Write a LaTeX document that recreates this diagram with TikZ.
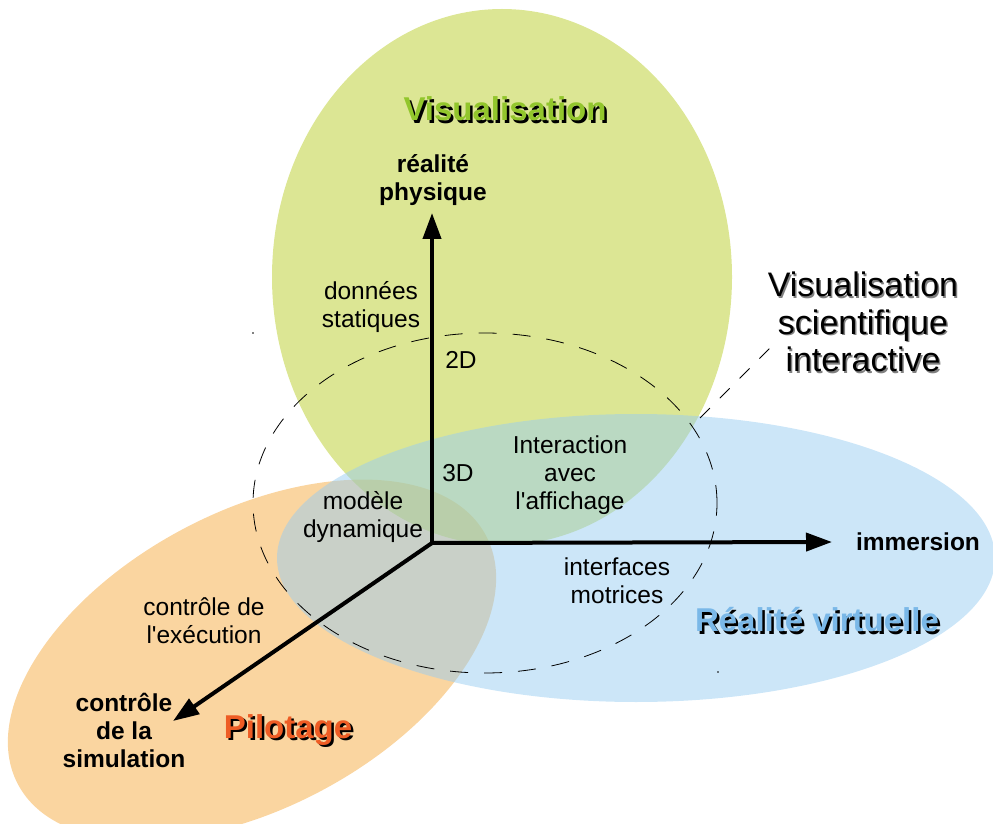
\documentclass[tikz,border=0pt]{standalone}
\usepackage{fontspec}
\setmainfont{Liberation Sans}[Ligatures=TeXOff]
\usetikzlibrary{arrows.meta}

\definecolor{visugreen}{RGB}{185,205,41}
\definecolor{virtblue}{RGB}{153,205,241}
\definecolor{pilotorange}{RGB}{245,171,65}
\definecolor{titlegreen}{RGB}{146,198,44}
\definecolor{titleblue}{RGB}{122,184,232}
\definecolor{titleorange}{RGB}{238,92,36}

% texte avec ombre portee
\newcommand{\ombre}[4]{\rlap{\kern#1\raisebox{-#1}{\textcolor{#2}{#4}}}\textcolor{#3}{#4}}

\begin{document}
\begin{tikzpicture}[x=1pt, y=1pt,
    zone/.style={fill opacity=0.5},
    tiret/.style={dash pattern=on 18pt off 16pt, line width=0.8pt},
    lbl/.style={align=center, font=\fontsize{24.5}{28}\selectfont},
    axlbl/.style={align=center, font=\fontsize{24.5}{28}\selectfont\bfseries},
    titre/.style={font=\fontsize{33}{38}\selectfont\bfseries},
    axe/.style={line width=4pt, line cap=rect, -{Triangle[length=26pt, width=18pt]}}]
    \useasboundingbox (0,0) rectangle (993,823);

    % les trois domaines
    \fill[zone, pilotorange, rotate around={28:(252,163)}] (252,163) ellipse [x radius=265, y radius=148];
    \fill[zone, visugreen] (502,546) ellipse [x radius=230, y radius=268];
    \fill[zone, virtblue] (636,265) ellipse [x radius=359, y radius=144];

    % visualisation scientifique interactive
    \draw[tiret] (485,320) ellipse [x radius=232, y radius=170];
    \coordinate (l1) at (700,405);
    \coordinate (l2) at (773,478);
    \draw[tiret, dash pattern=on 14pt off 14pt] (l1) -- (l2);
    \fill (253,490) circle (0.9);
    \fill (718,151) circle (0.9);

    % axes
    \coordinate (O) at (432,280);
    \coordinate (haut) at (432,610);
    \coordinate (droite) at (832,281);
    \coordinate (bas) at (173,102);
    \draw[axe] (O) -- (haut);
    \draw[axe] (O) -- (droite);
    \draw[axe] (O) -- (bas);

    \node[axlbl] (phys) at (433,643) {réalité\\physique};
    \node[axlbl] (imm) at (918,281) {immersion};
    \node[axlbl] (simu) at (124,93) {contrôle\\de la\\simulation};

    \node[lbl] (donnees) at (371,516) {données\\statiques};
    \node[lbl] (d2) at (461,463) {2D};
    \node[lbl] (d3) at (458,350) {3D};
    \node[lbl] (modele) at (363,306) {modèle\\dynamique};
    \node[lbl] (inter) at (570,348) {Interaction\\avec\\l'affichage};
    \node[lbl] (motrices) at (617,242) {interfaces\\motrices};
    \node[lbl] (exec) at (204,202) {contrôle de\\l'exécution};

    \node[titre] (visu) at (505,713) {\ombre{2.5pt}{black}{titlegreen}{Visualisation}};
    \node[titre] (rv) at (817,202) {\ombre{2.5pt}{black}{titleblue}{Réalité virtuelle}};
    \node[titre] (pilot) at (288,92) {\ombre{2.5pt}{black}{titleorange}{Pilotage}};
    \node[align=center, font=\fontsize{34}{37.5}\selectfont] (vsi) at (863,500)
        {\ombre{1.5pt}{gray}{black}{Visualisation}\\\ombre{1.5pt}{gray}{black}{scientifique}\\\ombre{1.5pt}{gray}{black}{interactive}};
\end{tikzpicture}
\end{document}
